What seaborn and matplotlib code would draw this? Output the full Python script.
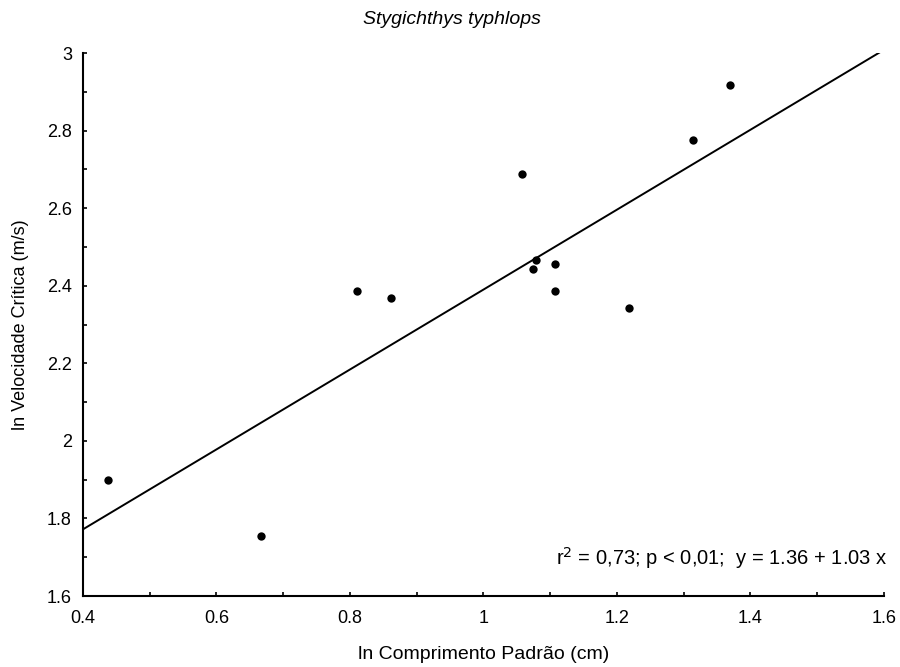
import numpy as np
import pandas as pd
import matplotlib
matplotlib.use("Agg")
import matplotlib.pyplot as plt
import seaborn as sns
from matplotlib.ticker import MultipleLocator

# Data
ln_length = [0.438, 0.667, 0.810, 0.862, 1.058, 1.079, 1.075, 1.108, 1.108, 1.218, 1.314, 1.370]
ln_speed = [1.900, 1.755, 2.386, 2.368, 2.688, 2.466, 2.442, 2.457, 2.386, 2.342, 2.777, 2.918]
intercept = 1.36
slope = 1.03
x_ticks = [0.4, 0.6, 0.8, 1.0, 1.2, 1.4, 1.6]
x_tick_labels = ["0.4", "0.6", "0.8", "1", "1.2", "1.4", "1.6"]
y_ticks = [1.6, 1.8, 2.0, 2.2, 2.4, 2.6, 2.8, 3.0]
y_tick_labels = ["1.6", "1.8", "2", "2.2", "2.4", "2.6", "2.8", "3"]

sns.set_theme(style="white")
plt.rcParams["font.family"] = ["Liberation Sans", "DejaVu Sans"]
plt.rcParams["text.color"] = "black"
plt.rcParams["axes.labelcolor"] = "black"

df = pd.DataFrame({"x": ln_length, "y": ln_speed})
fit_x = np.array([x_ticks[0], x_ticks[-1]])
fit = pd.DataFrame({"x": fit_x, "y": intercept + slope * fit_x})

fig = plt.figure(figsize=(9, 6.67), dpi=100)
ax = fig.add_axes([0.0922, 0.1064, 0.8898, 0.8141])

sns.lineplot(data=fit, x="x", y="y", ax=ax, color="black", linewidth=1.4)
sns.scatterplot(data=df, x="x", y="y", ax=ax, color="black", s=36, edgecolor="black", linewidth=0, zorder=3, clip_on=False)

ax.set_xlim(0.4, 1.6)
ax.set_ylim(1.6, 3.0)
ax.set_xticks(x_ticks)
ax.set_xticklabels(x_tick_labels)
ax.set_yticks(y_ticks)
ax.set_yticklabels(y_tick_labels)
ax.xaxis.set_minor_locator(MultipleLocator(0.1))
ax.yaxis.set_minor_locator(MultipleLocator(0.1))
ax.tick_params(which="both", direction="in", length=3, width=1.2, colors="black",
               labelsize=13, bottom=True, left=True)
ax.tick_params(axis="x", which="major", pad=10)
ax.tick_params(axis="y", which="major", pad=8)

for side in ["top", "right"]:
    ax.spines[side].set_visible(False)
for side in ["left", "bottom"]:
    ax.spines[side].set_color("black")
    ax.spines[side].set_linewidth(1.5)

ax.set_xlabel("ln Comprimento Padrão (cm)", fontsize=14, labelpad=14, color="black")
ax.set_ylabel("ln Velocidade Crítica (m/s)", fontsize=13, labelpad=13, color="black")
fig.text(0.502, 1 - 20 / 667, "Stygichthys typhlops", fontsize=14, style="italic",
         ha="center", va="center", color="black")

ax.text(1.004, 0.047, "r$^2$ = 0,73; p < 0,01;  y = 1.36 + 1.03 x",
        transform=ax.transAxes, ha="right", va="bottom", fontsize=14.5, color="black")

fig.savefig("out.png", dpi=100)
